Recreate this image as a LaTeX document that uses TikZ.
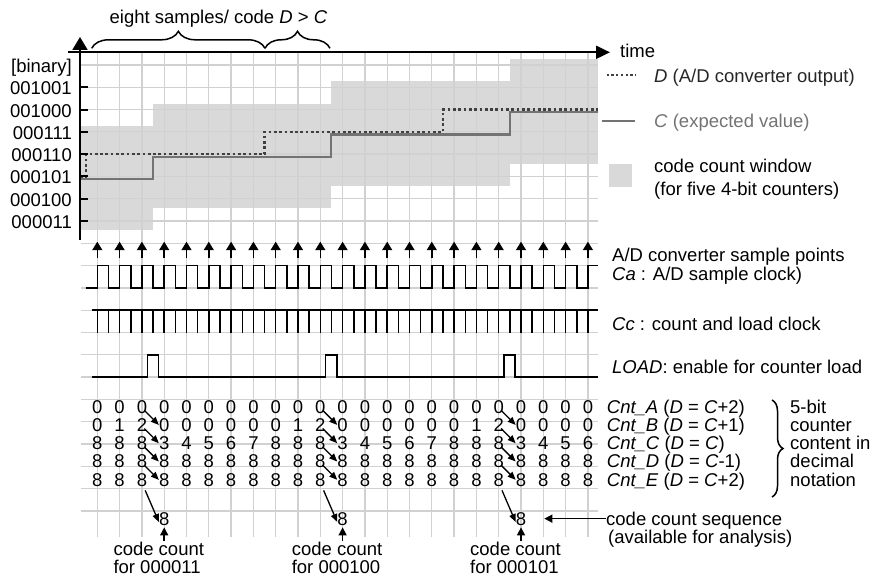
\documentclass[tikz,border=0pt]{standalone}
\usepackage{fontspec}
\setmainfont{Liberation Sans}
\usetikzlibrary{arrows.meta,decorations.pathreplacing,calc}
\begin{document}
\begin{tikzpicture}[x=1pt,y=-1pt,
  txt/.style={font=\fontsize{18.5pt}{22pt}\selectfont, inner sep=0pt},
  gridline/.style={draw=black!18, line width=1.3pt},
  window/.style={fill=black!15},
  sig/.style={draw=black, line width=1.5pt},
  axisline/.style={draw=black, line width=2pt},
  dline/.style={draw=black!75, line width=2.6pt, dash pattern=on 2.7pt off 2.6pt},
  cline/.style={draw=black!55, line width=2.2pt},
  samp/.style={draw=black, line width=1.5pt, -{Triangle[length=8.5pt,width=10pt]}},
  carrow/.style={draw=black, line width=1.3pt, -{Triangle[length=8pt,width=6.5pt]}},
  uparrow/.style={draw=black, line width=1.5pt, -{Triangle[length=8pt,width=8pt]}},
  bracestyle/.style={draw=black, line width=1.5pt, decorate},
]
\useasboundingbox (0,0) rectangle (875,578);

% code count windows
\fill[window] (80,{176.4+1.7-52.3}) rectangle (152.85,{176.4+1.7+52.3});
\fill[window] (152.85,{154.1+1.7-52.3}) rectangle (331.25,{154.1+1.7+52.3});
\fill[window] (331.25,{131.8+1.7-52.3}) rectangle (509.65,{131.8+1.7+52.3});
\fill[window] (509.65,{109.5+1.7-52.3}) rectangle (598,{109.5+1.7+52.3});

% grid
\foreach \j in {0,...,20} \draw[gridline] (81,{64.9+22.3*\j}) -- (598,{64.9+22.3*\j});
\foreach \k in {0,...,22} \draw[gridline] ({97.3+22.3*\k},52.3) -- ({97.3+22.3*\k},537);

% C and D
\draw[cline] (80,179) -- (152.85,179) -- (152.85,156.7) -- (331.25,156.7) -- (331.25,134.4) -- (509.65,134.4) -- (509.65,112.1) -- (598,112.1);
\draw[dline] (80,176.4) -- (86.15,176.4) -- (86.15,154.1) -- (264.55,154.1) -- (264.55,131.8) -- (442.95,131.8) -- (442.95,109.5) -- (598,109.5);

% axes
\draw[axisline, -{Triangle[length=13pt,width=15pt]}] (80,240) -- (80,37);
\draw[axisline, -{Triangle[length=14pt,width=13pt]}] (68,52.3) -- (610,52.3);
\foreach \j in {1,...,7} \draw[axisline] (80,{64.9+22.3*\j}) -- (87.5,{64.9+22.3*\j});

% value labels
\node[txt, anchor=base east] (bin) at (72,73) {[binary]};
\foreach \lab [count=\j] in {001001,001000,000111,000110,000101,000100,000011}
  \node[txt, anchor=base east] (v\j) at (72,{64.9+22.3*\j+7.5}) {\lab};

% top braces
\draw[bracestyle, decoration={brace, amplitude=17pt}] (91.7,48.3) -- (265,48.3);
\draw[bracestyle, decoration={brace, amplitude=17pt}] (265,48.3) -- (330,48.3);
\node[txt, anchor=base] (toplab) at (218.5,23.5) {eight samples/ code \textit{D} > \textit{C}};

% legend
\node[txt, anchor=base west] (time) at (620,58) {time};
\draw[dline, line width=2.2pt, dash pattern=on 2.3pt off 2.4pt] (606.7,75) -- (635,75);
\node[txt, anchor=base west, text=black!85] (legD) at (654,82) {\textit{D} (A/D converter output)};
\draw[cline] (601.7,121) -- (635,121);
\node[txt, anchor=base west, text=black!55] (legC) at (654,127.5) {\textit{C} (expected value)};
\fill[window] (609,164) rectangle (631.7,186.7);
\node[txt, anchor=base west] (legW1) at (654,172) {code count window};
\node[txt, anchor=base west] (legW2) at (654,195) {(for five 4-bit counters)};

% sample points
\foreach \k in {0,...,22} \draw[samp] ({97.3+22.3*\k},258.3) -- ({97.3+22.3*\k},241.7);

% Ca clock
\draw[sig] (86,287.9) \foreach \k in {0,...,21} { -- ({97.3+22.3*\k},287.9) -- ({97.3+22.3*\k},265.6) -- ({108.45+22.3*\k},265.6) -- ({108.45+22.3*\k},287.9) } -- (587.9,287.9) -- (587.9,265.6) -- (598,265.6);

% Cc clock
\draw[sig] (91.7,310.2) -- (598,310.2);
\foreach \m in {0,...,44} \draw[sig] ({97.3+11.15*\m},310.2) -- ({97.3+11.15*\m},332.5);

% LOAD
\draw[sig] (91.7,377.1) \foreach \c in {152.85,331.25,509.65} { -- ({\c-5.575},377.1) -- ({\c-5.575},354.8) -- ({\c+5.575},354.8) -- ({\c+5.575},377.1) } -- (598,377.1);

% signal labels
\node[txt, anchor=base west] (lsp) at (612,261.5) {A/D converter sample points};
\node[txt, anchor=base west] (lca) at (612,280) {\textit{Ca} : A/D sample clock)};
\node[txt, anchor=base west] (lcc) at (612,330) {\textit{Cc} : count and load clock};
\node[txt, anchor=base west] (lld) at (612,373.3) {\textit{LOAD}: enable for counter load};

% counters
\foreach \v [count=\k from 0] in {0,0,0,0,0,0,0,0,0,0,0,0,0,0,0,0,0,0,0,0,0,0,0}
  \node[txt, anchor=base] (n-0-\k) at ({97.3+22.3*\k},413) {\v};
\foreach \v [count=\k from 0] in {0,1,2,0,0,0,0,0,0,1,2,0,0,0,0,0,0,1,2,0,0,0,0}
  \node[txt, anchor=base] (n-1-\k) at ({97.3+22.3*\k},431.3) {\v};
\foreach \v [count=\k from 0] in {8,8,8,3,4,5,6,7,8,8,8,3,4,5,6,7,8,8,8,3,4,5,6}
  \node[txt, anchor=base] (n-2-\k) at ({97.3+22.3*\k},449.6) {\v};
\foreach \v [count=\k from 0] in {8,8,8,8,8,8,8,8,8,8,8,8,8,8,8,8,8,8,8,8,8,8,8}
  \node[txt, anchor=base] (n-3-\k) at ({97.3+22.3*\k},467.9) {\v};
\foreach \v [count=\k from 0] in {8,8,8,8,8,8,8,8,8,8,8,8,8,8,8,8,8,8,8,8,8,8,8}
  \node[txt, anchor=base] (n-4-\k) at ({97.3+22.3*\k},486.2) {\v};

% code count results
\node[txt, anchor=base] (r1) at (164.2,525) {8};
\node[txt, anchor=base] (r2) at (342.6,525) {8};
\node[txt, anchor=base] (r3) at (521.0,525) {8};

% counter arrows
\foreach \c/\res in {2/r1,10/r2,18/r3} {
  \pgfmathtruncatemacro\d{\c+1}
  \foreach \r in {0,...,3} {
    \pgfmathtruncatemacro\s{\r+1}
    \draw[carrow] ($(n-\r-\c.south)!0.45!(n-\r-\c.east)$) -- (n-\s-\d.west);
  }
  \draw[carrow] ($(n-4-\c.south)+(3.3,3.8)$) -- ($(\res.west)!0.5!(\res.south west)$);
}

% counter labels
\node[txt, anchor=base west] (ca) at (606.7,413) {\textit{Cnt\_A} (\textit{D} = \textit{C}+2)};
\node[txt, anchor=base west] (cb) at (606.7,431.3) {\textit{Cnt\_B} (\textit{D} = \textit{C}+1)};
\node[txt, anchor=base west] (cc) at (606.7,449.6) {\textit{Cnt\_C} (\textit{D} = \textit{C})};
\node[txt, anchor=base west] (cd) at (606.7,467.9) {\textit{Cnt\_D} (\textit{D} = \textit{C}-1)};
\node[txt, anchor=base west] (ce) at (606.7,486.2) {\textit{Cnt\_E} (\textit{D} = \textit{C}+2)};
\draw[bracestyle, decoration={brace, amplitude=11pt}] (772,400) -- (772,497);
\node[txt, anchor=base west] (t1) at (790,413) {5-bit};
\node[txt, anchor=base west] (t2) at (790,431.3) {counter};
\node[txt, anchor=base west] (t3) at (790,449.6) {content in};
\node[txt, anchor=base west] (t4) at (790,467.9) {decimal};
\node[txt, anchor=base west] (t5) at (790,486.2) {notation};

% code count labels
\node[txt, anchor=base west] (k1a) at (113.3,555) {code count};
\node[txt, anchor=base west] (k1b) at (113.3,573.3) {for 000011};
\node[txt, anchor=base west] (k2a) at (291.6,555) {code count};
\node[txt, anchor=base west] (k2b) at (291.6,573.3) {for 000100};
\node[txt, anchor=base west] (k3a) at (470.0,555) {code count};
\node[txt, anchor=base west] (k3b) at (470.0,573.3) {for 000101};
\draw[uparrow, shorten >=2pt] (k1a.north -| r1.south) -- (r1.south);
\draw[uparrow, shorten >=2pt] (k2a.north -| r2.south) -- (r2.south);
\draw[uparrow, shorten >=2pt] (k3a.north -| r3.south) -- (r3.south);

% code count sequence
\node[txt, anchor=base west] (s1) at (606,525) {code count sequence};
\node[txt, anchor=base west] (s2) at (608,543.5) {(available for analysis)};
\draw[uparrow, shorten >=18pt] (r3.east -| s1.west) -- (r3.east);
\end{tikzpicture}
\end{document}
